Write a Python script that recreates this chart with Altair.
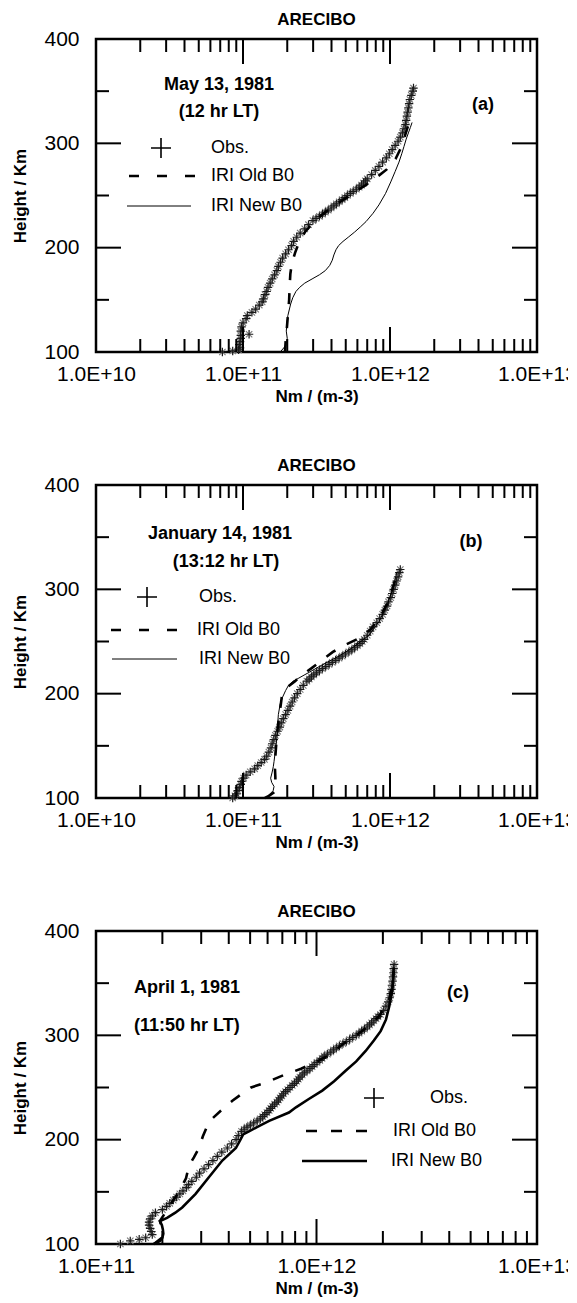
import altair as alt
import pandas as pd

# ---------------- shared text / axis values ----------------
TITLE = "ARECIBO"
X_TITLE = "Nm / (m-3)"
Y_TITLE = "Height / Km"
LEGEND = ["Obs.", "IRI Old B0", "IRI New B0"]
Y_LABELS = [100, 200, 300, 400]
Y_MAJOR = [200, 300]
Y_MINOR = [150, 250, 350]
X_LABELS_AB = [1e10, 1e11, 1e12, 1e13]
X_MAJOR_AB = [1e11, 1e12]
X_MINOR_AB = [2e10, 3e10, 4e10, 5e10, 6e10, 7e10, 8e10, 9e10,
              2e11, 3e11, 4e11, 5e11, 6e11, 7e11, 8e11, 9e11,
              2e12, 3e12, 4e12, 5e12, 6e12, 7e12, 8e12, 9e12]
X_LABELS_C = [1e11, 1e12, 1e13]
X_MAJOR_C = [1e12]
X_MINOR_C = [2e11, 3e11, 4e11, 5e11, 6e11, 7e11, 8e11, 9e11,
             2e12, 3e12, 4e12, 5e12, 6e12, 7e12, 8e12, 9e12]

# ---------------- panel (a): May 13, 1981 ----------------
A_TEXT = ["May 13,  1981", "(12 hr LT)", "(a)"]
A_OBS_H = [100, 101, 102, 104, 107, 110, 113, 116, 117, 120,
           124, 128, 132, 135, 138, 141, 145, 148, 151, 155,
           158, 162, 166, 170, 174, 178, 182, 186, 190, 194,
           198, 202, 206, 210, 214, 218, 222, 226, 228, 230,
           232, 234, 236, 238, 240, 242, 244, 246, 248, 250,
           252, 254, 256, 258, 260, 262, 264, 266, 270, 274,
           278, 282, 286, 290, 294, 298, 302, 306, 310, 314,
           318, 322, 326, 330, 334, 338, 342, 346, 350, 353]
A_OBS_N = [7.24e10, 8.51e10, 9.33e10, 9.55e10, 9.44e10, 9.55e10, 9.66e10, 9.66e10, 1.10e11, 9.66e10,
           9.77e10, 1.00e11, 1.05e11, 1.07e11, 1.15e11, 1.22e11, 1.29e11, 1.35e11, 1.38e11, 1.41e11,
           1.45e11, 1.48e11, 1.53e11, 1.58e11, 1.64e11, 1.70e11, 1.74e11, 1.80e11, 1.86e11, 1.95e11,
           2.04e11, 2.14e11, 2.21e11, 2.32e11, 2.45e11, 2.63e11, 2.79e11, 2.99e11, 3.14e11, 3.31e11,
           3.47e11, 3.63e11, 3.80e11, 3.98e11, 4.15e11, 4.32e11, 4.52e11, 4.73e11, 4.93e11, 5.13e11,
           5.37e11, 5.62e11, 5.90e11, 6.17e11, 6.40e11, 6.61e11, 6.80e11, 7.00e11, 7.50e11, 7.94e11,
           8.41e11, 8.91e11, 9.44e11, 9.89e11, 1.035e12, 1.084e12, 1.135e12, 1.175e12, 1.216e12, 1.245e12,
           1.274e12, 1.288e12, 1.303e12, 1.318e12, 1.334e12, 1.349e12, 1.365e12, 1.396e12, 1.429e12, 1.445e12]
A_OLD_H = [100, 110, 120, 135, 150, 165, 175, 185, 195, 205, 215, 225, 235, 245, 252, 260, 268, 275,
           285, 295, 305, 313, 320]
A_OLD_N = [1.93e11, 1.95e11, 1.98e11, 2.02e11, 2.06e11, 2.08e11, 2.10e11, 2.15e11, 2.26e11, 2.40e11,
           2.64e11, 3.04e11, 3.70e11, 4.70e11, 5.55e11, 6.85e11, 8.20e11, 9.50e11, 1.09e12, 1.18e12,
           1.25e12, 1.30e12, 1.349e12]
A_NEW_H = [100, 106, 110, 113, 120, 128, 135, 146, 152, 158, 162, 166, 170, 174, 178, 183, 188, 193, 198,
           202, 206, 210, 215, 220, 225, 233, 241, 252, 263, 273, 282, 290, 297, 304, 310, 315, 320]
A_NEW_N = [1.79e11, 1.95e11, 1.98e11, 2.00e11, 1.97e11, 1.99e11, 2.02e11, 2.11e11, 2.18e11, 2.29e11,
           2.43e11, 2.63e11, 2.95e11, 3.31e11, 3.63e11, 3.89e11, 4.05e11, 4.15e11, 4.29e11, 4.47e11,
           4.79e11, 5.20e11, 5.75e11, 6.30e11, 6.87e11, 7.67e11, 8.41e11, 9.33e11, 1.012e12, 1.084e12,
           1.151e12, 1.202e12, 1.245e12, 1.288e12, 1.334e12, 1.374e12, 1.413e12]

# ---------------- panel (b): January 14, 1981 ----------------
B_TEXT = ["January 14,  1981", "(13:12 hr LT)", "(b)"]
B_OBS_H = [100, 102, 104, 107, 110, 113, 116, 119, 122, 125,
           128, 131, 134, 137, 140, 144, 148, 152, 156, 160,
           164, 168, 172, 176, 180, 184, 188, 192, 196, 200,
           204, 208, 212, 214, 216, 218, 220, 222, 224, 226,
           228, 230, 232, 234, 236, 238, 240, 242, 244, 246,
           248, 250, 252, 256, 260, 264, 268, 272, 276, 280,
           284, 288, 292, 296, 300, 304, 308, 312, 316, 319]
B_OBS_N = [8.51e10, 8.81e10, 9.02e10, 9.23e10, 9.44e10, 9.66e10, 9.77e10, 1.01e11, 1.05e11, 1.12e11,
           1.20e11, 1.26e11, 1.33e11, 1.40e11, 1.45e11, 1.50e11, 1.55e11, 1.58e11, 1.62e11, 1.66e11,
           1.72e11, 1.78e11, 1.82e11, 1.88e11, 1.95e11, 2.02e11, 2.09e11, 2.16e11, 2.24e11, 2.34e11,
           2.45e11, 2.57e11, 2.72e11, 2.82e11, 2.92e11, 3.03e11, 3.16e11, 3.31e11, 3.47e11, 3.65e11,
           3.85e11, 4.05e11, 4.27e11, 4.50e11, 4.73e11, 4.98e11, 5.25e11, 5.50e11, 5.75e11, 6.00e11,
           6.24e11, 6.47e11, 6.68e11, 7.00e11, 7.33e11, 7.67e11, 8.13e11, 8.51e11, 8.91e11, 9.23e11,
           9.55e11, 9.77e11, 1.012e12, 1.035e12, 1.059e12, 1.084e12, 1.109e12, 1.135e12, 1.156e12, 1.175e12]
B_OLD_H = [100, 102, 106, 112, 120, 128, 140, 155, 170, 185, 198, 206, 212, 218, 224, 232, 240, 247, 253,
           262, 275, 290, 305, 317]
B_OLD_N = [1.41e11, 1.50e11, 1.65e11, 1.66e11, 1.66e11, 1.65e11, 1.66e11, 1.69e11, 1.73e11, 1.79e11,
           1.84e11, 1.99e11, 2.26e11, 2.52e11, 2.90e11, 3.44e11, 4.09e11, 5.01e11, 6.15e11, 7.43e11,
           8.69e11, 9.84e11, 1.064e12, 1.117e12]
B_NEW_H = [100, 103, 107, 111, 115, 119, 124, 130, 135, 145, 158, 170, 180, 190, 196, 203, 208, 212, 215,
           221, 228, 236, 245, 256, 269, 285, 301, 317]
B_NEW_N = [1.455e11, 1.503e11, 1.603e11, 1.626e11, 1.567e11, 1.542e11, 1.574e11, 1.607e11, 1.626e11, 1.66e11,
           1.70e11, 1.72e11, 1.74e11, 1.79e11, 1.85e11, 1.95e11, 2.04e11, 2.20e11, 2.40e11, 2.86e11,
           3.50e11, 4.50e11, 5.69e11, 7.19e11, 8.41e11, 9.59e11, 1.047e12, 1.117e12]

# ---------------- panel (c): April 1, 1981 ----------------
C_TEXT = ["April 1, 1981", "(11:50  hr LT)", "(c)"]
C_OBS_H = [100, 103, 104.5, 106, 109, 112, 115, 118, 121, 124,
           127, 130, 133, 136, 139, 142, 145, 148, 151, 154,
           157, 160, 164, 168, 172, 176, 180, 184, 188, 192,
           196, 200, 204, 208, 210, 212, 214, 216, 218, 220,
           222, 224, 226, 228, 230, 232, 234, 236, 238, 240,
           242, 244, 246, 248, 250, 252, 254, 256, 258, 260,
           262, 264, 266, 268, 270, 272, 274, 276, 278, 280,
           282, 284, 286, 288, 290, 292, 294, 296, 298, 300,
           302, 304, 306, 308, 310, 312, 314, 316, 318, 320,
           324, 328, 332, 336, 340, 344, 348, 352, 356, 360,
           364, 368]
C_OBS_N = [1.29e11, 1.43e11, 1.57e11, 1.68e11, 1.80e11, 1.78e11, 1.76e11, 1.74e11, 1.74e11, 1.76e11,
           1.80e11, 1.86e11, 2.00e11, 2.09e11, 2.16e11, 2.24e11, 2.32e11, 2.40e11, 2.48e11, 2.57e11,
           2.63e11, 2.72e11, 2.85e11, 2.95e11, 3.09e11, 3.24e11, 3.39e11, 3.55e11, 3.72e11, 3.94e11,
           4.12e11, 4.32e11, 4.42e11, 4.57e11, 4.70e11, 4.84e11, 5.01e11, 5.19e11, 5.38e11, 5.56e11,
           5.70e11, 5.82e11, 5.96e11, 6.10e11, 6.20e11, 6.31e11, 6.46e11, 6.61e11, 6.72e11, 6.84e11,
           6.96e11, 7.08e11, 7.24e11, 7.41e11, 7.58e11, 7.76e11, 7.94e11, 8.13e11, 8.27e11, 8.41e11,
           8.61e11, 8.81e11, 9.06e11, 9.33e11, 9.55e11, 9.77e11, 1.005e12, 1.035e12, 1.06e12, 1.084e12,
           1.12e12, 1.161e12, 1.195e12, 1.230e12, 1.27e12, 1.318e12, 1.365e12, 1.413e12, 1.46e12, 1.514e12,
           1.56e12, 1.603e12, 1.65e12, 1.698e12, 1.74e12, 1.778e12, 1.82e12, 1.862e12, 1.90e12, 1.950e12,
           2.018e12, 2.065e12, 2.113e12, 2.148e12, 2.173e12, 2.188e12, 2.198e12, 2.213e12, 2.223e12, 2.234e12,
           2.239e12, 2.249e12]
C_OLD_H = [100, 106, 115, 122, 130, 140, 150, 163, 175, 183, 192, 203, 212, 220, 228, 237, 244, 250, 256,
           262, 268, 275, 281, 291, 304, 318, 333, 349, 365]
C_OLD_N = [1.83e11, 1.99e11, 1.99e11, 1.95e11, 2.06e11, 2.21e11, 2.38e11, 2.56e11, 2.64e11, 2.78e11,
           2.93e11, 3.05e11, 3.18e11, 3.36e11, 3.69e11, 4.14e11, 4.59e11, 5.05e11, 6.10e11, 7.13e11,
           8.51e11, 1.005e12, 1.140e12, 1.306e12, 1.607e12, 1.919e12, 2.133e12, 2.198e12, 2.244e12]
C_NEW_H = [100, 103, 106, 110, 114, 118, 122, 125, 130, 135, 148, 164, 180, 192, 200, 205, 208, 212, 218,
           226, 231, 239, 247, 256, 266, 275, 285, 295, 304, 315, 327, 343, 362]
C_NEW_N = [1.83e11, 1.95e11, 2.00e11, 2.02e11, 2.01e11, 1.99e11, 1.95e11, 2.10e11, 2.29e11, 2.46e11,
           2.83e11, 3.25e11, 3.74e11, 4.31e11, 4.52e11, 4.65e11, 4.94e11, 5.37e11, 6.10e11, 7.50e11,
           8.07e11, 9.23e11, 1.062e12, 1.202e12, 1.355e12, 1.514e12, 1.671e12, 1.820e12, 1.954e12, 2.065e12,
           2.133e12, 2.208e12, 2.244e12]

# ---------------- drawing ----------------
W, H = 441, 313
FONT = "Liberation Sans"
PLUS = "M-1,0L1,0M0,-1L0,1"
XMARK = "M-0.8,-0.8L0.8,0.8M-0.8,0.8L0.8,-0.8"
MINOR_LEN, MAJOR_LEN = 13, 25


def one_row(label):
    return pd.DataFrame({"t": [label]})


def txt(label, x, y, size, weight="normal", align="left"):
    return alt.Chart(one_row(label)).mark_text(
        align=align, baseline="middle", fontSize=size, fontWeight=weight, color="black", font=FONT
    ).encode(x=alt.value(x), y=alt.value(y), text="t:N")


def panel(obs, old, new, xdom, xlabels, xmajor, xminor, texts, text_pos, leg, new_w, dash_leg):
    x_enc = alt.X(
        "N:Q",
        scale=alt.Scale(type="log", domain=xdom, nice=False),
        axis=alt.Axis(values=xlabels, labelExpr="'1.0E+' + round(log(datum.value)/LN10)",
                      ticks=False, domain=False, grid=False, labelFlush=False, labelOverlap=False,
                      labelFontSize=21, labelPadding=11, labelColor="black", labelFont=FONT,
                      titleFontSize=17, titleFontWeight="bold", titlePadding=4, titleColor="black",
                      titleFont=FONT),
        title=X_TITLE,
    )
    y_enc = alt.Y(
        "h:Q",
        scale=alt.Scale(domain=[100, 400], nice=False, zero=False),
        axis=alt.Axis(values=Y_LABELS, ticks=False, domain=False, grid=False, labelFlush=False,
                      labelFontSize=21, labelPadding=17, labelColor="black", labelFont=FONT,
                      titleFontSize=17, titleFontWeight="bold", titlePadding=14, titleColor="black",
                      titleFont=FONT),
        title=Y_TITLE,
    )
    obs_df = pd.DataFrame({"N": obs[1], "h": obs[0]})
    old_df = pd.DataFrame({"N": old[1], "h": old[0]})
    new_df = pd.DataFrame({"N": new[1], "h": new[0]})

    layers = []
    layers.append(alt.Chart(obs_df).mark_point(shape=XMARK, size=64, strokeWidth=1.1, color="#7a7a7a",
                                               filled=False, opacity=1).encode(x=x_enc, y=y_enc))
    layers.append(alt.Chart(obs_df).mark_point(shape=PLUS, size=70, strokeWidth=1.2, color="#1a1a1a",
                                               filled=False, opacity=1).encode(x=x_enc, y=y_enc))
    layers.append(alt.Chart(old_df).mark_line(color="black", strokeWidth=2.6, strokeDash=[11, 13]).encode(
        x=x_enc, y=y_enc, order=alt.Order("h:Q")))
    layers.append(alt.Chart(new_df).mark_line(color="black", strokeWidth=new_w).encode(
        x=x_enc, y=y_enc, order=alt.Order("h:Q")))

    # inward tick marks on all four sides
    maj = pd.DataFrame({"N": xmajor})
    mino = pd.DataFrame({"N": xminor})
    for df, ln in ((maj, MAJOR_LEN), (mino, MINOR_LEN)):
        layers.append(alt.Chart(df).mark_rule(color="black", strokeWidth=2).encode(
            x=x_enc, y=alt.value(H), y2=alt.value(H - ln)))
        layers.append(alt.Chart(df).mark_rule(color="black", strokeWidth=2).encode(
            x=x_enc, y=alt.value(0), y2=alt.value(ln)))
    ymaj = pd.DataFrame({"h": Y_MAJOR})
    ymin = pd.DataFrame({"h": Y_MINOR})
    for df, ln in ((ymaj, MAJOR_LEN), (ymin, MINOR_LEN)):
        layers.append(alt.Chart(df).mark_rule(color="black", strokeWidth=2).encode(
            y=y_enc, x=alt.value(0), x2=alt.value(ln)))
        layers.append(alt.Chart(df).mark_rule(color="black", strokeWidth=2).encode(
            y=y_enc, x=alt.value(W), x2=alt.value(W - ln)))

    # panel title
    layers.append(txt(TITLE, W / 2, -19, 17, "bold", "center"))

    # annotations
    for label, (x, y, align) in zip(texts, text_pos):
        layers.append(txt(label, x, y, 18, "bold", align))

    # hand-drawn legend (as in the figure)
    px, py = leg["plus"]
    layers.append(alt.Chart(one_row(LEGEND[0])).mark_point(shape=PLUS, size=400, strokeWidth=1.6,
                                                           color="black", filled=False, opacity=1).encode(
        x=alt.value(px), y=alt.value(py)))
    x1, x2, yy = leg["dash"]
    layers.append(alt.Chart(one_row(LEGEND[1])).mark_rule(color="black", strokeWidth=2.6,
                                                          strokeDash=dash_leg).encode(
        x=alt.value(x1), x2=alt.value(x2), y=alt.value(yy)))
    x1, x2, yy = leg["solid"]
    layers.append(alt.Chart(one_row(LEGEND[2])).mark_rule(color="black", strokeWidth=new_w).encode(
        x=alt.value(x1), x2=alt.value(x2), y=alt.value(yy)))
    for label, key in zip(LEGEND, ["t_obs", "t_old", "t_new"]):
        tx, ty = leg[key]
        layers.append(txt(label, tx, ty, 18))

    return alt.layer(*layers).properties(width=W, height=H)


pa = panel((A_OBS_H, A_OBS_N), (A_OLD_H, A_OLD_N), (A_NEW_H, A_NEW_N),
           [1e10, 1e13], X_LABELS_AB, X_MAJOR_AB, X_MINOR_AB, A_TEXT,
           [(123, 46, "center"), (123, 73, "center"), (387, 66, "center")],
           {"plus": (65, 109), "t_obs": (115, 109), "dash": (33, 100, 137), "t_old": (115, 137),
            "solid": (31, 95, 167), "t_new": (115, 167)},
           1.0, [10, 18])
pb = panel((B_OBS_H, B_OBS_N), (B_OLD_H, B_OLD_N), (B_NEW_H, B_NEW_N),
           [1e10, 1e13], X_LABELS_AB, X_MAJOR_AB, X_MINOR_AB, B_TEXT,
           [(124, 49, "center"), (130, 77, "center"), (375, 57, "center")],
           {"plus": (51, 112), "t_obs": (103, 112), "dash": (15, 82, 145), "t_old": (101, 145),
            "solid": (16, 81, 174), "t_new": (103, 174)},
           1.0, [10, 18])
pc = panel((C_OBS_H, C_OBS_N), (C_OLD_H, C_OLD_N), (C_NEW_H, C_NEW_N),
           [1e11, 1e13], X_LABELS_C, X_MAJOR_C, X_MINOR_C, C_TEXT,
           [(38, 57, "left"), (38, 95, "left"), (362, 62, "center")],
           {"plus": (278, 167), "t_obs": (334, 167), "dash": (210, 271, 200), "t_old": (297, 200),
            "solid": (206, 271, 230), "t_new": (295, 230)},
           2.6, [11, 14])

# the right edge of the page cuts the last tick label, as in the original figure
chart = alt.vconcat(pa, pb, pc, spacing=49).properties(
    padding={"left": 2, "top": 1, "right": -10, "bottom": 0}
).configure(font=FONT).configure_view(stroke="black", strokeWidth=2.5)

chart.save("out.html", embed_options={"renderer": "svg", "actions": False})
